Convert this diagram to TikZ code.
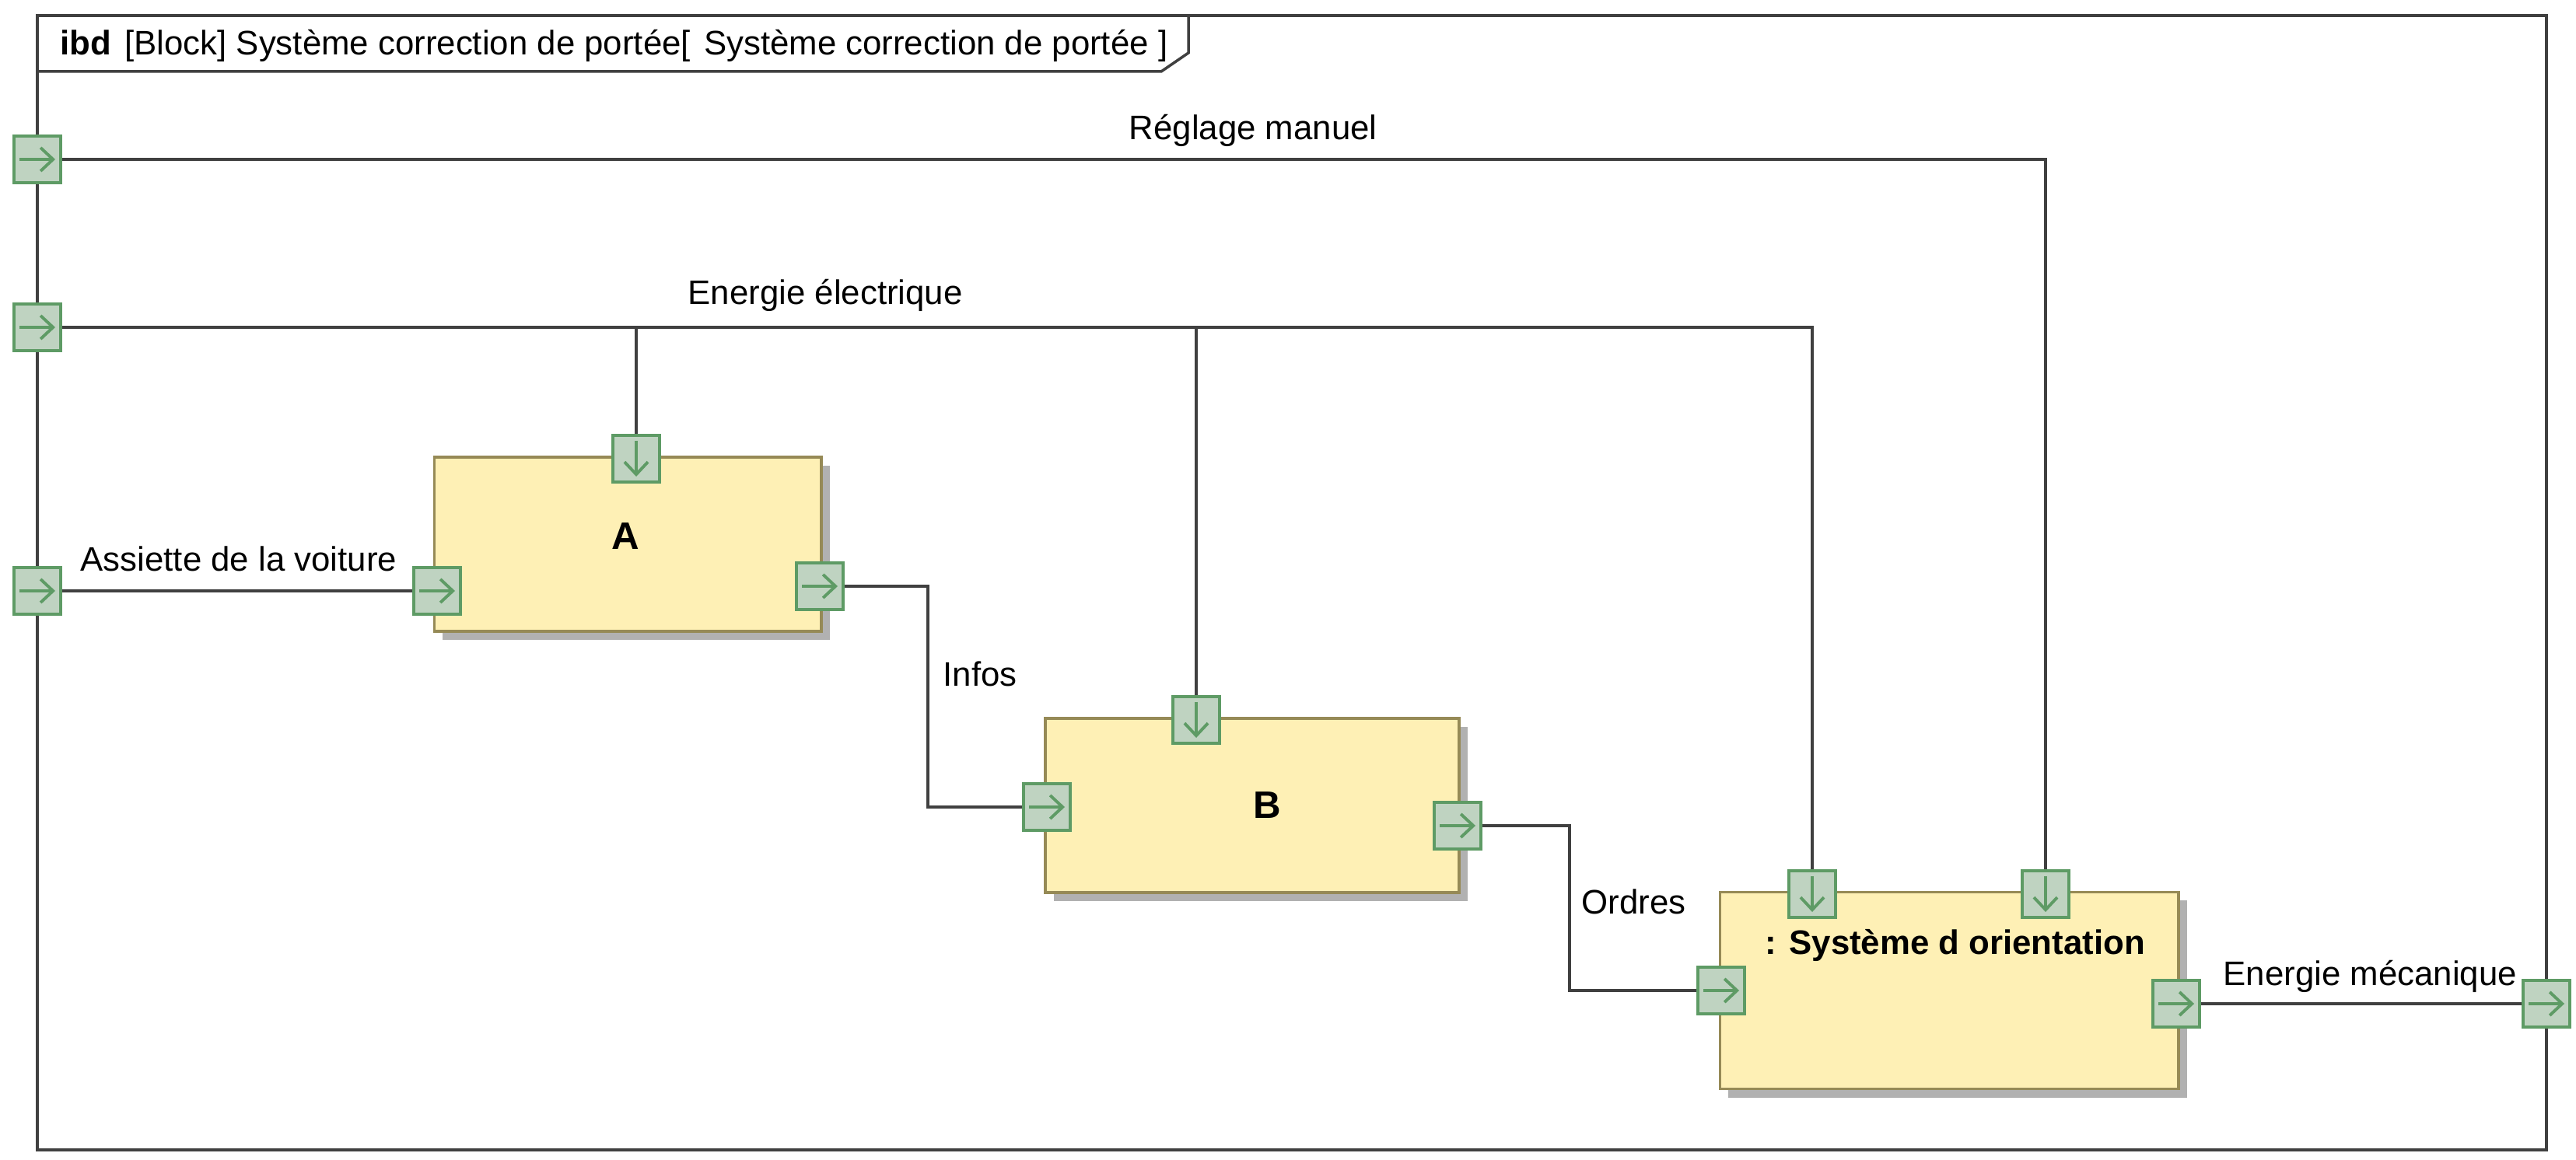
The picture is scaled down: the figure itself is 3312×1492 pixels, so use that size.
\documentclass[tikz,border=0pt]{standalone}
\usepackage{fontspec}
\setmainfont{Liberation Sans}
\usepackage{tikz}
\usetikzlibrary{arrows.meta,shadows}

\definecolor{wiregray}{HTML}{404040}
\definecolor{portline}{HTML}{5E9B65}
\definecolor{portfill}{HTML}{BFD3C1}
\definecolor{blockline}{HTML}{968A56}
\definecolor{blockfill}{HTML}{FEF0B5}
\definecolor{shadowgray}{HTML}{B1B1B1}

\begin{document}
\begin{tikzpicture}
    [x=0.01cm, y=-0.01cm, every node/.style={inner sep=0, font=\fontsize{12.45}{14}\selectfont},
     bold/.style={font=\fontsize{12.45}{14}\selectfont\bfseries},
     big/.style={font=\fontsize{14}{16}\selectfont\bfseries},
     lbl/.style={anchor=base west},
     frame/.style={draw=wiregray, line width=1pt},
     wire/.style={draw=wiregray, line width=0.95pt},
     block/.style={rectangle, draw=blockline, fill=blockfill, line width=1.05pt,
       drop shadow={shadow xshift=0.11cm, shadow yshift=-0.11cm, fill=shadowgray, opacity=1}},
     port/.style={rectangle, draw=portline, fill=portfill, line width=1.1pt, minimum size=0.6cm},
     hport/.style={port, path picture={\draw[portline, line width=1.1pt, -{Straight Barb[length=1.6mm,width=3mm]}]
       ([xshift=-0.23cm]path picture bounding box.center) -- ([xshift=0.23cm]path picture bounding box.center);}},
     vport/.style={port, path picture={\draw[portline, line width=1.1pt, -{Straight Barb[length=1.6mm,width=3mm]}]
       ([yshift=0.23cm]path picture bounding box.center) -- ([yshift=-0.23cm]path picture bounding box.center);}}]
    \useasboundingbox (0,0) rectangle (3312,1492);

    \draw[frame] (48,20) rectangle (3274,1479);
    \draw[frame] (48,92) -- (1493,92) -- (1528,68) -- (1528,20);
    \node[lbl] (title) at (77,71) {\textbf{ibd}\hspace{0.17cm}[Block] Système correction de portée[\hspace{0.05cm} Système correction de portée ]};

    \node[block, minimum width=4.97cm, minimum height=2.24cm] (A) at (807,700) {};
    \node[block, minimum width=5.32cm, minimum height=2.24cm] (B) at (1610,1036) {};
    \node[block, minimum width=5.89cm, minimum height=2.53cm] (S) at (2506,1274) {};
    \node[big] (nA) at (804,690) {A};
    \node[big] (nB) at (1629,1036) {B};
    \node[bold, lbl] (nS) at (2269,1227) {: Système d orientation};

    \node[hport] (pReg) at (48,205) {};
    \node[hport] (pElec) at (48,421) {};
    \node[hport] (pAss) at (48,760) {};
    \node[hport] (pMeca) at (3274,1291) {};
    \node[hport] (pAin) at (562,760) {};
    \node[vport] (pAtop) at (818,590) {};
    \node[hport] (pAout) at (1054,754) {};
    \node[hport] (pBin) at (1346,1038) {};
    \node[vport] (pBtop) at (1538,926) {};
    \node[hport] (pBout) at (1874,1062) {};
    \node[hport] (pSin) at (2213,1274) {};
    \node[vport] (pStop1) at (2330,1150) {};
    \node[vport] (pStop2) at (2630,1150) {};
    \node[hport] (pSout) at (2798,1291) {};

    \draw[wire] (pReg.east) -| (pStop2.north);
    \draw[wire] (pElec.east) -| (pStop1.north);
    \draw[wire] (pAtop.north) -- (pAtop.north |- pElec.east);
    \draw[wire] (pBtop.north) -- (pBtop.north |- pElec.east);
    \draw[wire] (pAss.east) -- (pAin.west);
    \draw[wire] (pAout.east) -- ++(107,0) |- (pBin.west);
    \draw[wire] (pBout.east) -- ++(112,0) |- (pSin.west);
    \draw[wire] (pSout.east) -- (pMeca.west);

    \node[lbl] (lReg) at (1451,180) {Réglage manuel};
    \node[lbl] (lElec) at (884,392) {Energie électrique};
    \node[lbl] (lAss) at (103,735) {Assiette de la voiture};
    \node[lbl] (lInfos) at (1212,883) {Infos};
    \node[lbl] (lOrdres) at (2033,1175) {Ordres};
    \node[lbl] (lMeca) at (2858,1267) {Energie mécanique};
\end{tikzpicture}
\end{document}
